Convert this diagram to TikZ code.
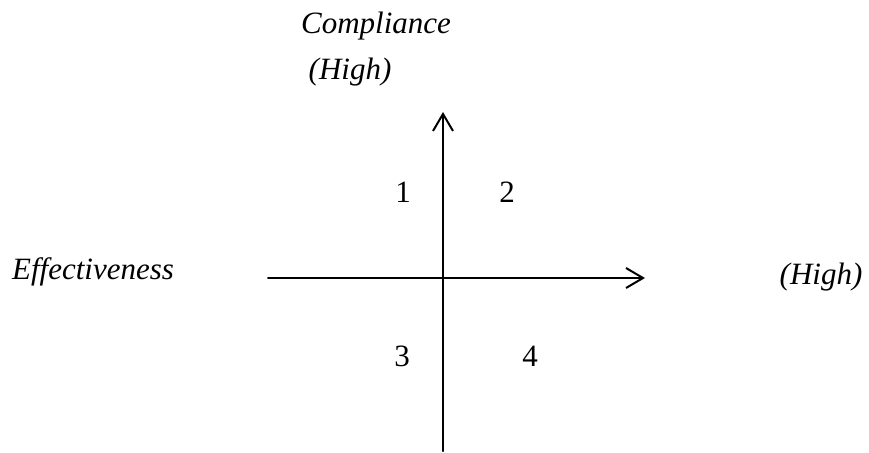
\documentclass[tikz,border=0pt]{standalone}
\usepackage{fontspec}
\setmainfont{Liberation Serif}
\usetikzlibrary{arrows.meta}
\tikzset{
  axislabel/.style={inner sep=0pt,font=\fontsize{15.5}{18}\selectfont\itshape},
  quadnum/.style={inner sep=0pt,font=\fontsize{15.5}{18}\selectfont},
  axisline/.style={line width=1pt,-{Straight Barb[length=8.5pt,width=10pt,line width=1pt]}}
}
\begin{document}
\begin{tikzpicture}[x=0.5pt,y=-0.5pt,line cap=round,line join=round]
  \useasboundingbox (0,0) rectangle (869,452);
  \coordinate (W) at (268,278);
  \coordinate (E) at (645,278);
  \coordinate (S) at (443,451);
  \coordinate (N) at (443,112);
  \draw[axisline] (W) -- (E);
  \draw[axisline] (S) -- (N);
  \node[axislabel] (comp) at (376,26) {Compliance};
  \node[axislabel] (highN) at (350,72) {(High)};
  \node[axislabel] (eff) at (93,272) {Effectiveness};
  \node[axislabel] (highE) at (821,277) {(High)};
  \node[quadnum] (q1) at (403,192) {1};
  \node[quadnum] (q2) at (507,192) {2};
  \node[quadnum] (q3) at (402,356) {3};
  \node[quadnum] (q4) at (530,356) {4};
\end{tikzpicture}
\end{document}
